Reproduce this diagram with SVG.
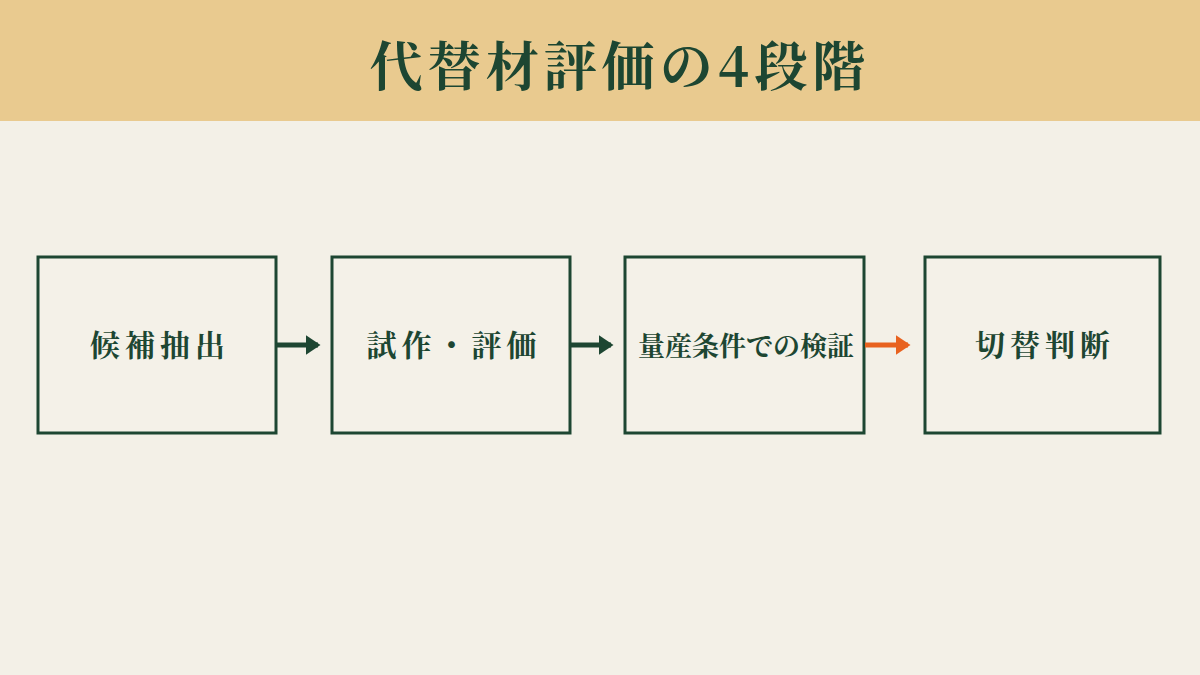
<svg xmlns="http://www.w3.org/2000/svg" width="1200" height="675" viewBox="0 0 1200 675">
<style>
.box{fill:#f4f1e8;stroke:#1d4632;stroke-width:3}
.t{font-family:"Noto Serif CJK JP","Noto Sans CJK JP",serif;font-weight:700;fill:#1d4632;text-anchor:middle}
.l{font-size:30px;letter-spacing:5px}
</style>
<defs>
<marker id="ag" markerWidth="4" markerHeight="4" refX="2.5" refY="2" orient="auto" markerUnits="strokeWidth"><path d="M0,0L3,2L0,4Z" fill="#1d4632"/></marker>
<marker id="ao" markerWidth="4" markerHeight="4" refX="2.5" refY="2" orient="auto" markerUnits="strokeWidth"><path d="M0,0L3,2L0,4Z" fill="#e8621f"/></marker>
</defs>
<rect width="1200" height="675" fill="#f3f0e7"/>
<rect width="1200" height="121" fill="#e9ca8f"/>
<text class="t" x="620" y="86" font-size="53" letter-spacing="5">代替材評価の4段階</text>
<g id="n1"><rect class="box" x="38" y="257" width="238" height="176"/><text class="t l" x="160" y="356">候補抽出</text></g>
<g id="n2"><rect class="box" x="332" y="257" width="238" height="176"/><text class="t l" x="454" y="356">試作・評価</text></g>
<g id="n3"><rect class="box" x="625" y="257" width="239" height="176"/><text class="t" x="746" y="356" font-size="27">量産条件での検証</text></g>
<g id="n4"><rect class="box" x="925" y="257" width="235" height="176"/><text class="t l" x="1045" y="356">切替判断</text></g>
<g id="connectors">
<line x1="277" y1="345" x2="318" y2="345" stroke="#1d4632" stroke-width="5" marker-end="url(#ag)"/>
<line x1="571" y1="345" x2="611" y2="345" stroke="#1d4632" stroke-width="5" marker-end="url(#ag)"/>
<line x1="865" y1="345" x2="908" y2="345" stroke="#e8621f" stroke-width="5" marker-end="url(#ao)"/>
</g>
</svg>
